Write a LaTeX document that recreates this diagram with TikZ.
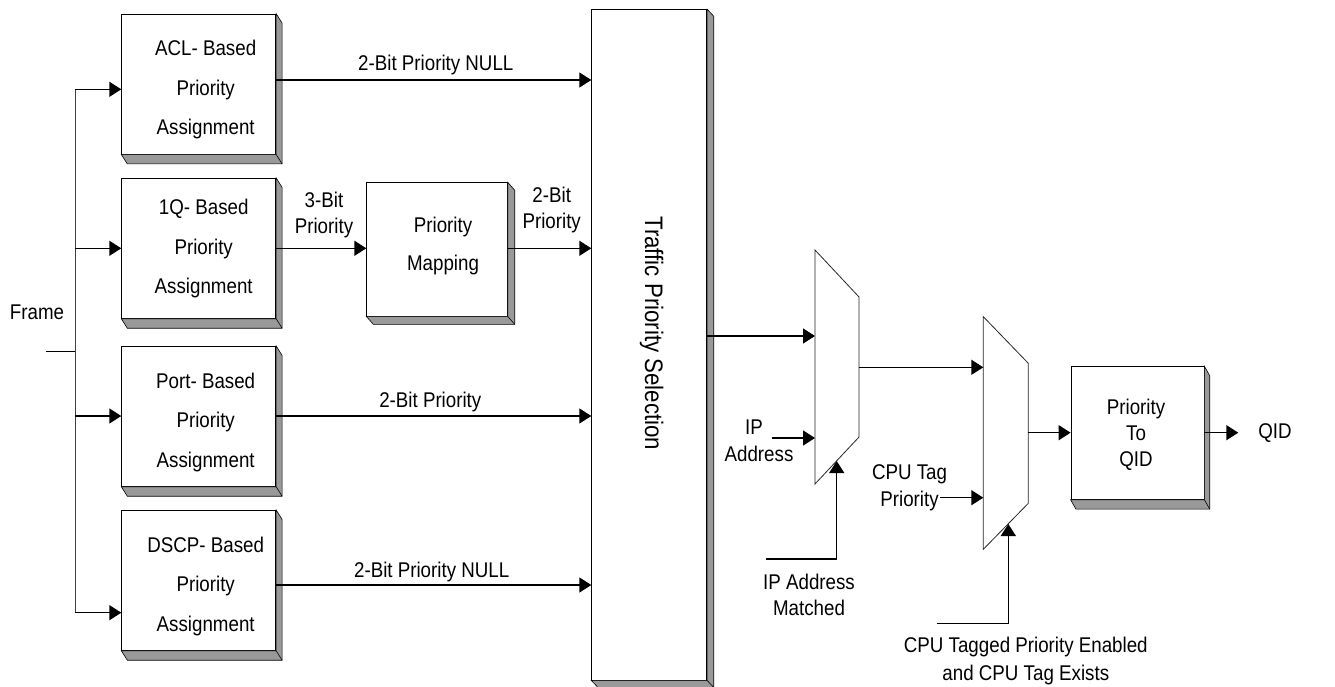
\documentclass[tikz,border=0pt]{standalone}
\usepackage{fontspec}
\setmainfont[FakeStretch=0.88]{Liberation Sans}
\usetikzlibrary{arrows.meta,calc}
\definecolor{shadowgray}{HTML}{999999}
\newcommand\boxshadow[3]{%
  \filldraw[fill=shadowgray,draw=black,line width=0.6pt]
    (#1.north east) -- ++(#2,#3) -- ($(#1.south east)+(#2,#3)$) -- ($(#1.south west)+(#2,#3)$)
    -- (#1.south west) -- (#1.south east) -- cycle;
  \draw[line width=0.6pt] (#1.south east) -- ++(#2,#3);}
\begin{document}
\begin{tikzpicture}[x=1pt,y=-1pt,
  font=\fontsize{21.3}{26.5}\selectfont,
  box3d/.style={draw, fill=white, line width=0.8pt, inner sep=0pt},
  boxtext/.style={align=center, inner sep=0pt, font=\fontsize{21.3}{39.5}\selectfont},
  qidtext/.style={align=center, inner sep=0pt, font=\fontsize{21.3}{26}\selectfont},
  lbl/.style={align=center, inner sep=0pt},
  arr/.style={line width=1.4pt, -{Triangle[length=12pt 0,width=15pt 0]}},
  thinline/.style={line width=0.9pt, draw=black!75},
  muxline/.style={line width=0.8pt, draw=black!85}]
\useasboundingbox (0,0) rectangle (1335,687);

% assignment boxes
\node[box3d, minimum width=154pt, minimum height=140pt,
  label={[boxtext,xshift=7pt,yshift=-5.75pt]center:{ACL- Based\\Priority\\Assignment}}] (acl) at (198.7,84) {};
\node[box3d, minimum width=154pt, minimum height=140pt,
  label={[boxtext,xshift=5pt,yshift=-0.6pt]center:{1Q- Based\\Priority\\Assignment}}] (oneq) at (198.7,248.3) {};
\node[box3d, minimum width=154pt, minimum height=140pt,
  label={[boxtext,xshift=7pt,yshift=-6pt]center:{Port- Based\\Priority\\Assignment}}] (port) at (198.7,416.3) {};
\node[box3d, minimum width=154pt, minimum height=140pt,
  label={[boxtext,xshift=7pt,yshift=-6pt]center:{DSCP- Based\\Priority\\Assignment}}] (dscp) at (198.7,580.3) {};

% priority mapping
\node[box3d, minimum width=140.6pt, minimum height=133.3pt,
  label={[boxtext,font=\fontsize{21.3}{38.7}\selectfont,xshift=6pt,yshift=3.4pt]center:{Priority\\Mapping}}] (pm) at (437,249.3) {};

% traffic priority selection
\node[box3d, minimum width=115pt, minimum height=670.4pt] (tps) at (649.2,344.8) {};
\node[lbl, rotate=-90, font=\fontsize{25.3}{30}\selectfont] (tpstext) at (651.7,333.3) {Traffic Priority Selection};

% priority to QID
\node[box3d, minimum width=133pt, minimum height=132.6pt,
  label={[qidtext,xshift=-1.5pt,yshift=-2pt]center:{Priority\\To\\QID}}] (pq) at (1137.5,433) {};

% shadows
\boxshadow{acl}{6}{9.5}
\boxshadow{oneq}{6}{9.5}
\boxshadow{port}{6}{9.5}
\boxshadow{dscp}{6}{9.5}
\boxshadow{pm}{7}{8}
\boxshadow{tps}{6.6}{7}
\boxshadow{pq}{5.3}{9.4}

% multiplexers
\draw[muxline] (815,250) coordinate (m1tl) -- (859,297) coordinate (m1tr) -- (859,437) coordinate (m1br) -- (815,484) coordinate (m1bl) -- cycle;
\draw[muxline] (983.3,316.7) coordinate (m2tl) -- (1028.3,363.3) coordinate (m2tr) -- (1028.3,503.3) coordinate (m2br) -- (983.3,549.3) coordinate (m2bl) -- cycle;
\coordinate (m1in1) at (815,336);
\coordinate (m1in2) at (815,438);
\coordinate (m1out) at (859,367.3);
\coordinate (m1sel) at (836.7,461);
\coordinate (m2in1) at (983.3,367.3);
\coordinate (m2in2) at (983.3,497.7);
\coordinate (m2out) at (1028.3,432.7);
\coordinate (m2sel) at (1008.3,524);

% frame bus
\coordinate (f1) at (75,89.3);
\coordinate (f2) at (75,248.3);
\coordinate (fj) at (75,351);
\coordinate (f3) at (75,416);
\coordinate (f4) at (75,612.7);
\coordinate (fin) at (46,351);
\draw[thinline] (f1) -- (f4);
\draw[line width=0.9pt] (fin) -- (fj);
\draw[arr] (f1) -- (f1 -| acl.west);
\draw[arr] (f2) -- (f2 -| oneq.west);
\draw[arr] (f3) -- (f3 -| port.west);
\draw[arr] (f4) -- (f4 -| dscp.west);
\node[lbl] (frame) at (37,312) {Frame};

% outputs of assignment boxes
\draw[arr] ([yshift=4pt]acl.east) -- ([yshift=4pt]acl.east -| tps.west);
\draw[arr] (oneq.east) -- (oneq.east -| pm.west);
\draw[arr] ([yshift=1pt]pm.east) -- ([yshift=1pt]pm.east -| tps.west);
\draw[arr] ([yshift=0.3pt]port.east) -- ([yshift=0.3pt]port.east -| tps.west);
\draw[arr] ([yshift=-4.7pt]dscp.east) -- ([yshift=-4.7pt]dscp.east -| tps.west);

\node[lbl] (l1) at (435.8,65) {2-Bit Priority NULL};
\node[lbl] (l2) at (324,214.75) {3-Bit\\Priority};
\node[lbl] (l3) at (551.7,210.1) {2-Bit\\Priority};
\node[lbl] (l4) at (430.3,402.3) {2-Bit Priority};
\node[lbl] (l5) at (431.7,572.3) {2-Bit Priority NULL};

% to first mux
\draw[arr] (m1in1 -| tps.east) -- (m1in1);
\coordinate (ipsrc) at (771.7,438);
\draw[arr] (ipsrc) -- (m1in2);
\node[lbl] (ipl) at (759,440.8) {IP\hspace*{10pt}\\Address};
\coordinate (ipm) at (766,559);
\draw[arr] (ipm) -- (ipm -| m1sel) -- (m1sel);
\node[lbl] (ipml) at (809,595) {IP Address\\Matched};

% to second mux
\draw[arr] (m1out) -- (m2in1);
\coordinate (cpusrc) at (940,497.7);
\draw[arr] (cpusrc) -- (m2in2);
\node[lbl] (cpul) at (909.5,488) {CPU Tag\\Priority};
\coordinate (cpum) at (936.7,623.3);
\draw[arr] (cpum) -- (cpum -| m2sel) -- (m2sel);
\node[lbl, font=\fontsize{21.3}{28.3}\selectfont] (cpuml) at (1025.8,660.9) {CPU Tagged Priority Enabled\\and CPU Tag Exists};

% to QID
\draw[arr] (m2out) -- (m2out -| pq.west);
\coordinate (qidend) at (1238.3,432.7);
\draw[arr] (m2out -| pq.east) -- (qidend);
\node[lbl] (qid) at (1275,432.7) {QID};
\end{tikzpicture}
\end{document}
